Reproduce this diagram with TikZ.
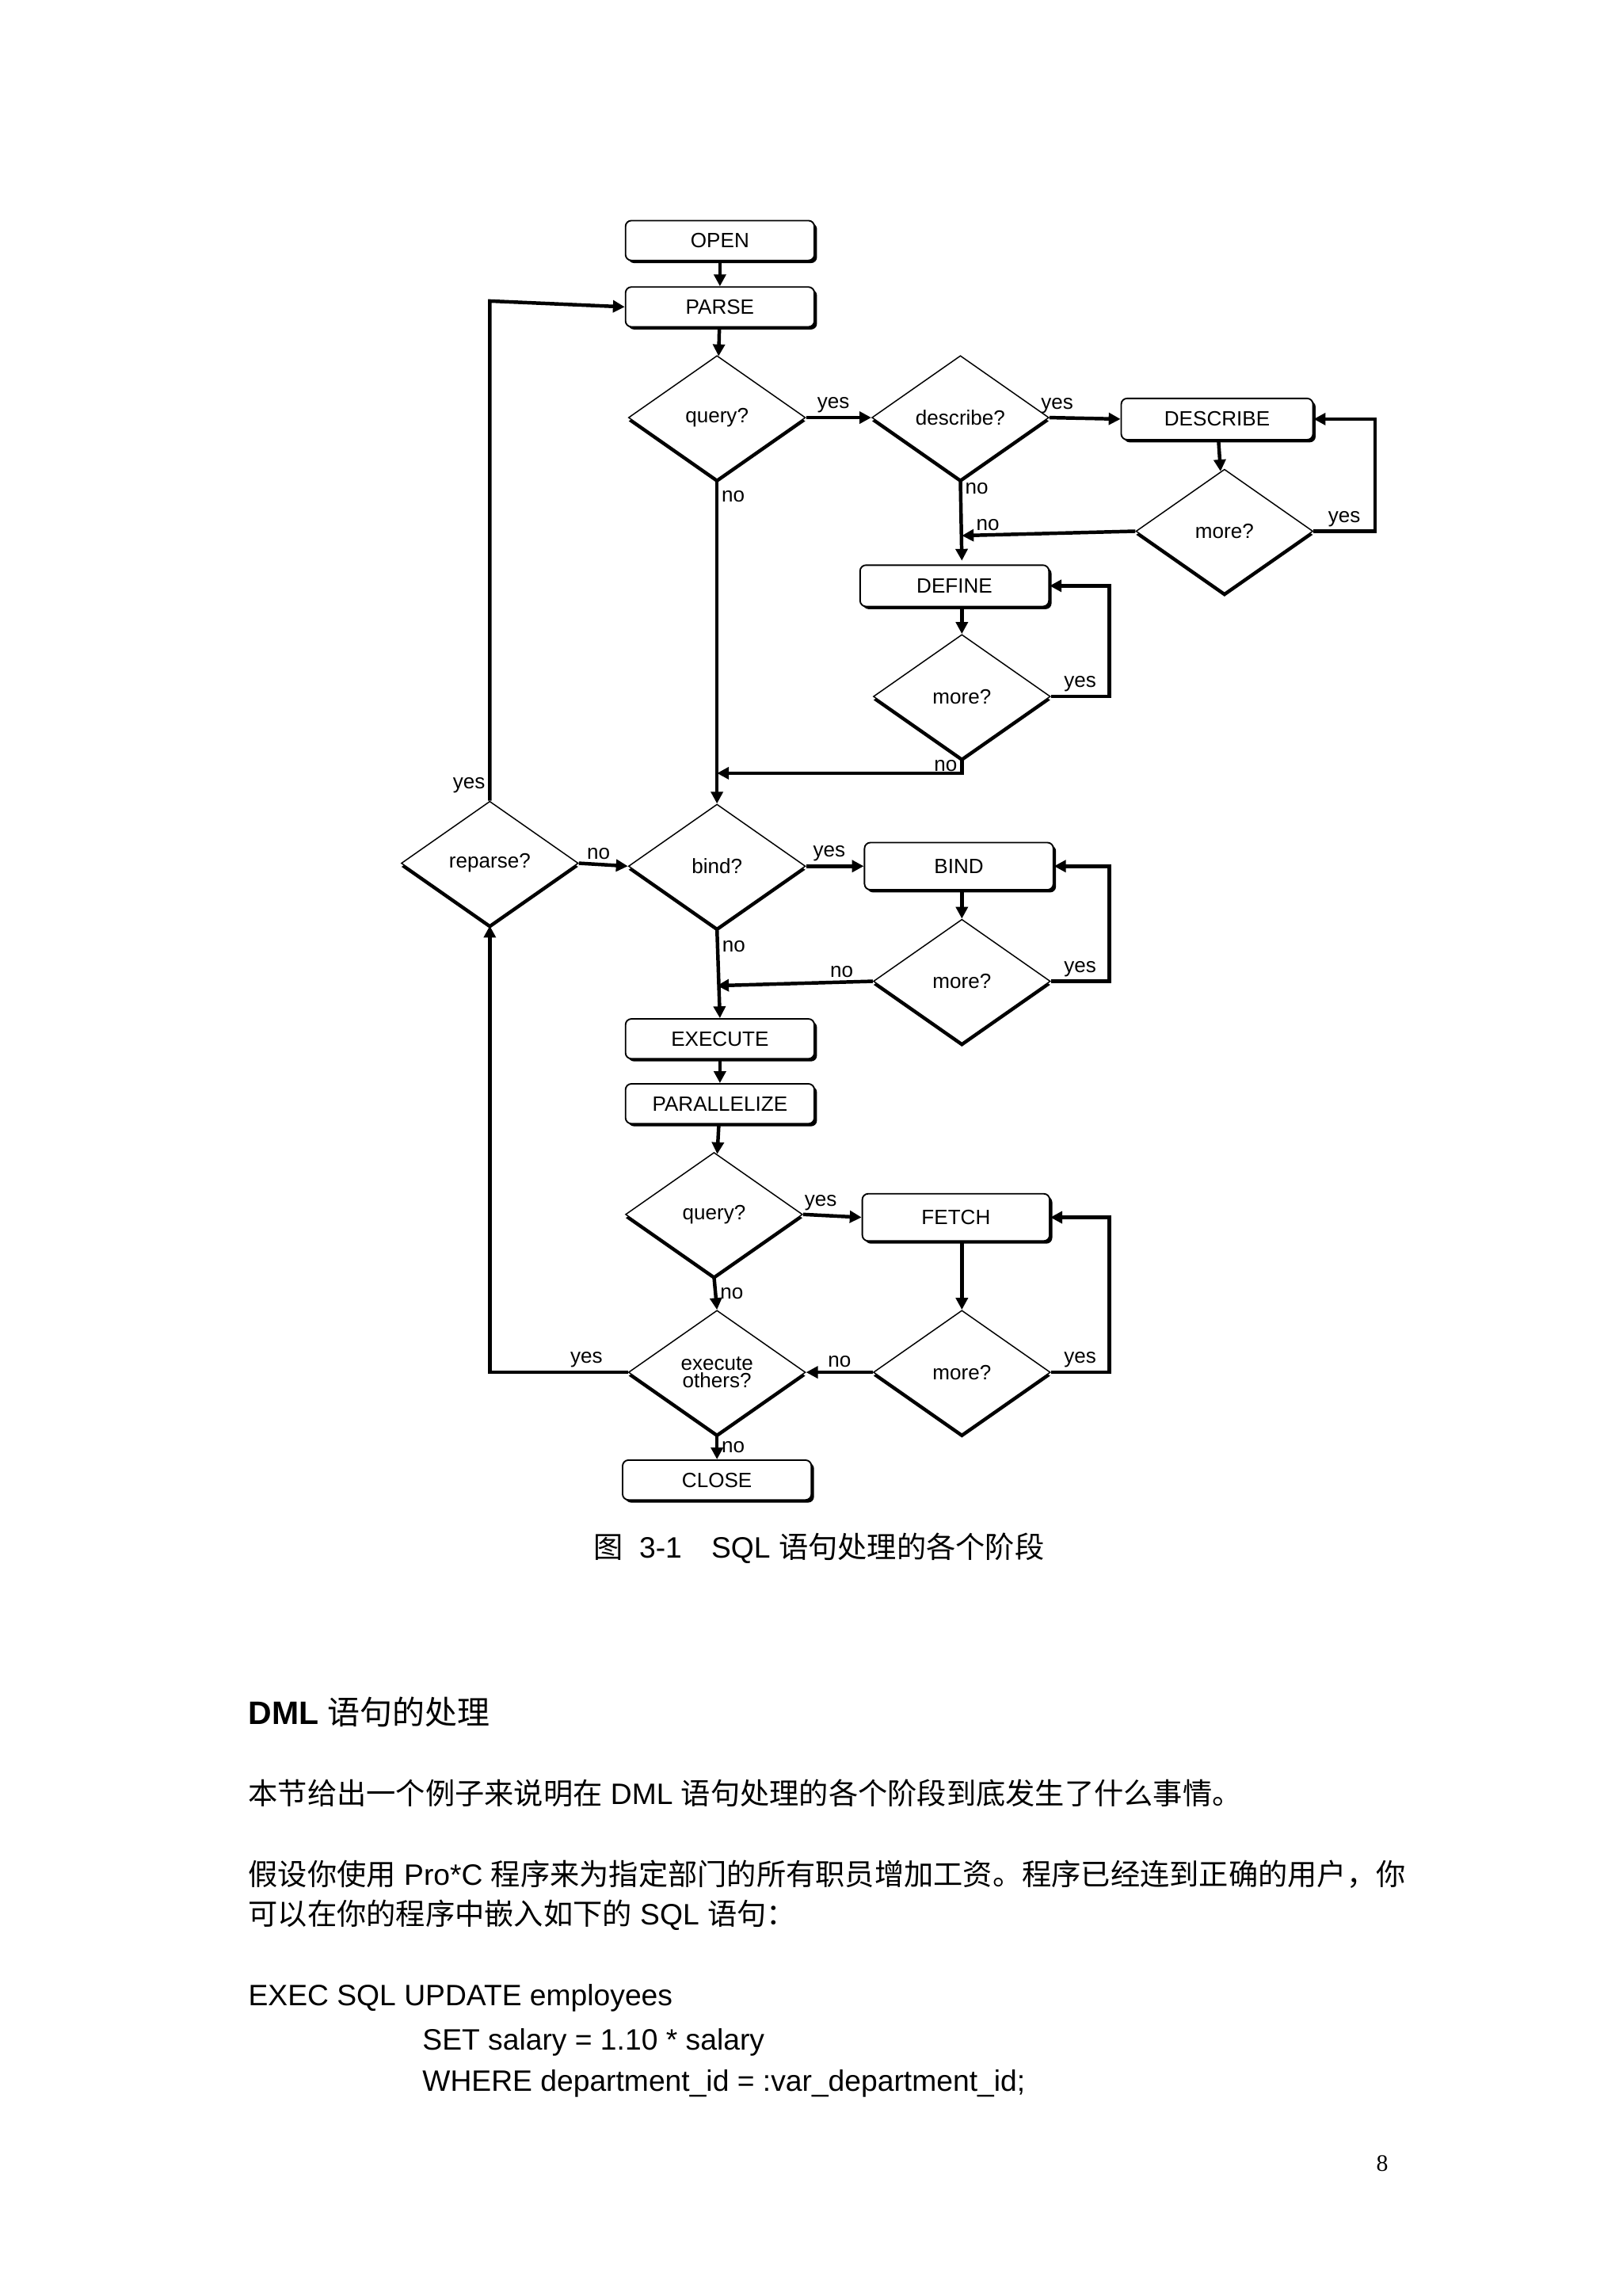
\documentclass[tikz,border=0pt]{standalone}
\usepackage{fontspec}
\setmainfont{Liberation Sans}
\newfontfamily\cjk{Noto Sans CJK SC}
\newfontfamily\serifnum{Liberation Serif}
\newcommand{\zh}[1]{{\cjk #1}}
\usetikzlibrary{shapes.geometric,shadows,arrows.meta}
\begin{document}
\begin{tikzpicture}[x=0.5pt,y=-0.5pt,
  box/.style={draw,line width=0.5pt,rounded corners=2pt,fill=white,minimum width=64pt,minimum height=13.5pt,inner sep=0pt,font=\fontsize{7}{8}\selectfont,
    drop shadow={shadow xshift=0.9pt,shadow yshift=-0.9pt,fill=black,opacity=1}},
  dia/.style={draw,line width=0.4pt,diamond,aspect=1.43,minimum width=60pt,minimum height=42pt,inner sep=0pt,fill=white,font=\fontsize{7}{8}\selectfont,align=center,
    drop shadow={shadow xshift=0pt,shadow yshift=-1.2pt,fill=black,opacity=1}},
  ar/.style={line width=1.2pt,-{Triangle[length=4pt,width=4pt]}},
  ln/.style={line width=1.2pt},
  lab/.style={font=\fontsize{7}{8}\selectfont,inner sep=1pt},
  body/.style={font=\fontsize{10}{12}\selectfont,anchor=west,inner sep=0pt}]
\useasboundingbox (0,0) rectangle (1100,1556);
\fill[white] (0,0) rectangle (1100,1556);
% nodes
\node[box] (open) at (488,163) {OPEN};
\node[box] (parse) at (488,208) {PARSE};
\node[dia] (q1) at (486,283) {query?};
\node[dia] (desc) at (651,283) {describe?};
\node[box,minimum width=65pt,minimum height=14pt] (DESC) at (825,284) {DESCRIBE};
\node[dia] (m1) at (830,360) {more?};
\node[box,minimum height=14pt] (def) at (647,397) {DEFINE};
\node[dia] (m2) at (652,472) {more?};
\node[dia] (bind) at (486,587) {bind?};
\node[dia] (rep) at (332,585) {reparse?};
\node[box,minimum height=16pt] (BIND) at (650,587) {BIND};
\node[dia] (m3) at (652,665) {more?};
\node[box] (exec) at (488,704) {EXECUTE};
\node[box] (par) at (488,748) {PARALLELIZE};
\node[dia] (q2) at (484,823) {query?};
\node[box,minimum width=63.5pt,minimum height=16pt] (fetch) at (648,825) {FETCH};
\node[dia] (eo) at (486,930) {execute\\[-2pt]others?};
\node[dia] (m4) at (652,930) {more?};
\node[box] (close) at (486,1003) {CLOSE};
% coordinates
\coordinate (j1) at (652,363);
\coordinate (j2) at (486,524);
\coordinate (j3) at (486,668);
% edges
\draw[ar] (open) -- (parse);
\draw[ar] (parse) -- (q1);
\draw[ar] (q1.east) -- node[lab,above right,pos=0.1]{yes} (desc.west);
\draw[ar] (desc.east) -- node[lab,above left,pos=0.4]{yes} (DESC.west);
\draw[ar] (DESC) -- (m1);
\draw[ar] (m1.east) -- node[lab,above,pos=0.5]{yes} (932,360) |- (DESC.east);
\draw[ar] (m1.west) -- node[lab,above,pos=0.85]{no} (j1);
\draw[ar] (desc.south) -- node[lab,right,pos=0.1]{no} (652,380);
\draw[ar] (def.south -| m2.north) -- (m2.north);
\draw[ar] (m2.east) -- node[lab,above,pos=0.5]{yes} (752,472) |- (def.east);
\draw[ar] (m2.south) -- node[lab,left,pos=0.5]{no} (652,524) -- (j2);
\draw[ar] (q1.south) -- node[lab,right,pos=0.05]{no} (bind.north);
\draw[ar] (rep.east) -- node[lab,above,pos=0.4]{no} (bind.west);
\draw[ar] (bind.east) -- node[lab,above,pos=0.4]{yes} (BIND.west);
\draw[ar] (BIND.south -| m3.north) -- (m3.north);
\draw[ar] (m3.east) -- node[lab,above,pos=0.5]{yes} (752,665) |- (BIND.east);
\draw[ar] (m3.west) -- node[lab,above,pos=0.2]{no} (j3);
\draw[ar] (bind.south) -- node[lab,right,pos=0.2]{no} (exec.north);
\draw[ar] (exec) -- (par);
\draw[ar] (par) -- (q2);
\draw[ar] (q2.east) -- node[lab,above,pos=0.3]{yes} (fetch.west);
\draw[ar] (fetch.south -| m4.north) -- (m4.north);
\draw[ar] (m4.east) -- node[lab,above,pos=0.5]{yes} (752,930) |- (fetch.east);
\draw[ar] (m4.west) -- node[lab,above,pos=0.5]{no} (eo.east);
\draw[ar] (q2.south) -- node[lab,right]{no} (eo.north);
\draw[ar] (eo.south) -- node[lab,right]{no} (close.north);
\draw[ar] (eo.west) -- node[lab,above,pos=0.3]{yes} (332,930) -- (rep.south);
\draw[ar] (rep.north) -- node[lab,left,pos=0.03]{yes} (332,204) -- (parse.west);
% caption and text
\node[font=\fontsize{10}{12}\selectfont,inner sep=0pt] (cap) at (555,1049) {\zh{图}\ \ 3-1\quad SQL \zh{语句处理的各个阶段}};
\node[body,font=\fontsize{11}{13}\selectfont\bfseries] (h) at (168,1160) {DML \zh{\mdseries 语句的处理}};
\node[body] (p1) at (168,1215) {\zh{本节给出一个例子来说明在} DML \zh{语句处理的各个阶段到底发生了什么事情。}};
\node[body] (p2) at (168,1270) {\zh{假设你使用} Pro*C \zh{程序来为指定部门的所有职员增加工资。程序已经连到正确的用户，你}};
\node[body] (p3) at (168,1298) {\zh{可以在你的程序中嵌入如下的} SQL \zh{语句：}};
\node[body] (c1) at (168,1354) {EXEC SQL UPDATE employees};
\node[body] (c2) at (286,1384) {SET salary = 1.10 * salary};
\node[body] (c3) at (286,1412) {WHERE department\_id = :var\_department\_id;};
\node[font=\serifnum\fontsize{8}{9}\selectfont] (pg) at (937,1466) {8};
\end{tikzpicture}
\end{document}
